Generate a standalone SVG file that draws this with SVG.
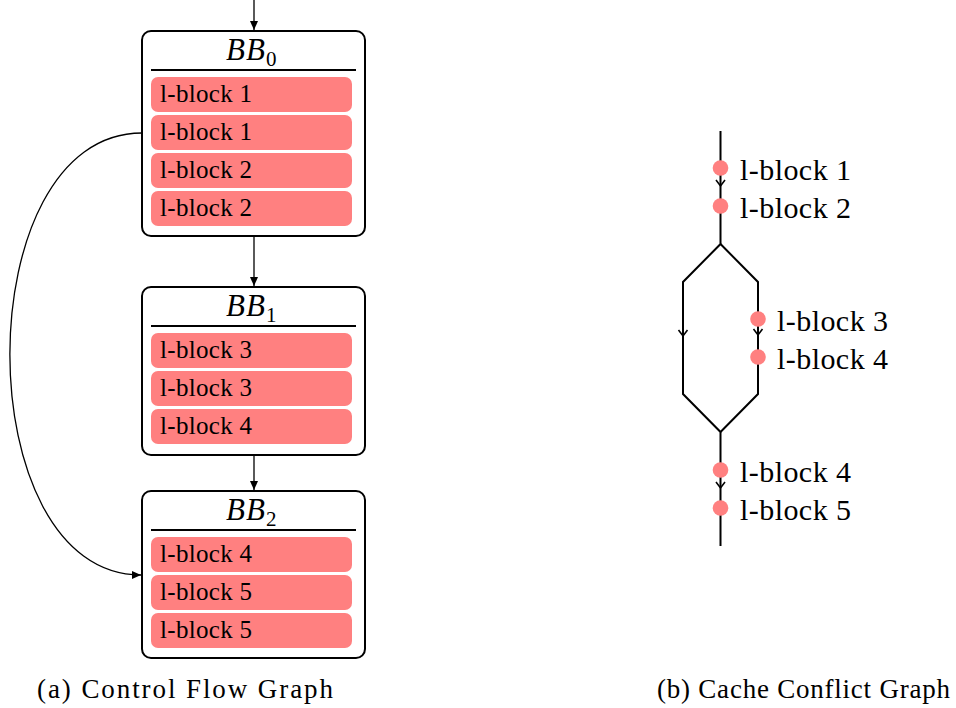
<svg xmlns="http://www.w3.org/2000/svg" width="956" height="708" viewBox="0 0 956 708">
<style>
.box{fill:#fff;stroke:#000;stroke-width:2}
.sep{stroke:#000;stroke-width:2}
.blk{fill:#ff8080;stroke:none}
.lt{font-family:"Liberation Serif",serif;font-size:25px;fill:#000}
.tt{font-family:"Liberation Serif",serif;font-style:italic;font-size:31px;fill:#000;letter-spacing:1px}
.sub{font-family:"Liberation Serif",serif;font-size:21px;fill:#000}
.rt{font-family:"Liberation Serif",serif;font-size:30px;fill:#000}
.cap{font-family:"Liberation Serif",serif;font-size:27px;fill:#000}
.edge{fill:none;stroke:#000;stroke-width:1.3}
.g{fill:none;stroke:#000;stroke-width:2}
.chev{fill:none;stroke:#000;stroke-width:1.6}
.dot{fill:#ff8080}
</style>
<defs>
<marker id="ah" markerWidth="10" markerHeight="8" refX="9" refY="4" orient="auto" markerUnits="userSpaceOnUse">
<path d="M0,0 L9,4 L0,8 Z" fill="#000"/>
</marker>
</defs>

<g id="BB0">
<rect class="box" x="142" y="31" width="223" height="205" rx="9"/>
<text class="tt" x="226" y="60">BB<tspan class="sub" font-style="normal" dy="6">0</tspan></text>
<line class="sep" x1="151" y1="70" x2="356" y2="70"/>
<rect class="blk" x="151" y="77" width="201" height="35" rx="7"/>
<text class="lt" x="160" y="102" textLength="92">l-block 1</text>
<rect class="blk" x="151" y="115" width="201" height="35" rx="7"/>
<text class="lt" x="160" y="140" textLength="92">l-block 1</text>
<rect class="blk" x="151" y="153" width="201" height="35" rx="7"/>
<text class="lt" x="160" y="178" textLength="92">l-block 2</text>
<rect class="blk" x="151" y="191" width="201" height="35" rx="7"/>
<text class="lt" x="160" y="216" textLength="92">l-block 2</text>
</g>

<g id="BB1">
<rect class="box" x="142" y="287" width="223" height="168" rx="9"/>
<text class="tt" x="226" y="316">BB<tspan class="sub" font-style="normal" dy="6">1</tspan></text>
<line class="sep" x1="151" y1="326" x2="356" y2="326"/>
<rect class="blk" x="151" y="333" width="201" height="35" rx="7"/>
<text class="lt" x="160" y="358" textLength="92">l-block 3</text>
<rect class="blk" x="151" y="371" width="201" height="35" rx="7"/>
<text class="lt" x="160" y="396" textLength="92">l-block 3</text>
<rect class="blk" x="151" y="409" width="201" height="35" rx="7"/>
<text class="lt" x="160" y="434" textLength="92">l-block 4</text>
</g>

<g id="BB2">
<rect class="box" x="142" y="491" width="223" height="167" rx="9"/>
<text class="tt" x="226" y="520">BB<tspan class="sub" font-style="normal" dy="6">2</tspan></text>
<line class="sep" x1="151" y1="530" x2="356" y2="530"/>
<rect class="blk" x="151" y="537" width="201" height="35" rx="7"/>
<text class="lt" x="160" y="562" textLength="92">l-block 4</text>
<rect class="blk" x="151" y="575" width="201" height="35" rx="7"/>
<text class="lt" x="160" y="600" textLength="92">l-block 5</text>
<rect class="blk" x="151" y="613" width="201" height="35" rx="7"/>
<text class="lt" x="160" y="638" textLength="92">l-block 5</text>
</g>

<g id="cfg-edges">
<line class="edge" x1="254" y1="0" x2="254" y2="30" marker-end="url(#ah)"/>
<line class="edge" x1="254" y1="236" x2="254" y2="286" marker-end="url(#ah)"/>
<line class="edge" x1="254" y1="455" x2="254" y2="490" marker-end="url(#ah)"/>
<path class="edge" d="M142,133 C-34,133 -34,575 141,575" stroke-width="1.1" marker-end="url(#ah)"/>
</g>

<g id="ccg">
<path class="g" d="M720.5,131 L720.5,244 L683,282 L683,394 L720.5,432 L720.5,546"/>
<path class="g" d="M720.5,244 L758,282 L758,394 L720.5,432"/>
<polyline class="chev" points="716,180 720.5,186 725,180"/>
<polyline class="chev" points="753.5,329 758,335 762.5,329"/>
<polyline class="chev" points="678.5,330 683,336 687.5,330"/>
<polyline class="chev" points="716,482 720.5,488 725,482"/>
</g>

<g id="ccg-n1"><circle class="dot" cx="720.5" cy="168" r="7.8"/><text class="rt" x="740" y="180" textLength="111">l-block 1</text></g>
<g id="ccg-n2"><circle class="dot" cx="720.5" cy="206" r="7.8"/><text class="rt" x="740" y="218" textLength="111">l-block 2</text></g>
<g id="ccg-n3"><circle class="dot" cx="758" cy="319" r="7.8"/><text class="rt" x="777" y="331" textLength="111">l-block 3</text></g>
<g id="ccg-n4"><circle class="dot" cx="758" cy="357" r="7.8"/><text class="rt" x="777" y="369" textLength="111">l-block 4</text></g>
<g id="ccg-n5"><circle class="dot" cx="720.5" cy="470" r="7.8"/><text class="rt" x="740" y="482" textLength="111">l-block 4</text></g>
<g id="ccg-n6"><circle class="dot" cx="720.5" cy="508" r="7.8"/><text class="rt" x="740" y="520" textLength="111">l-block 5</text></g>

<text class="cap" x="37" y="698" textLength="296">(a) Control Flow Graph</text>
<text class="cap" x="657" y="698" textLength="293">(b) Cache Conflict Graph</text>
</svg>
